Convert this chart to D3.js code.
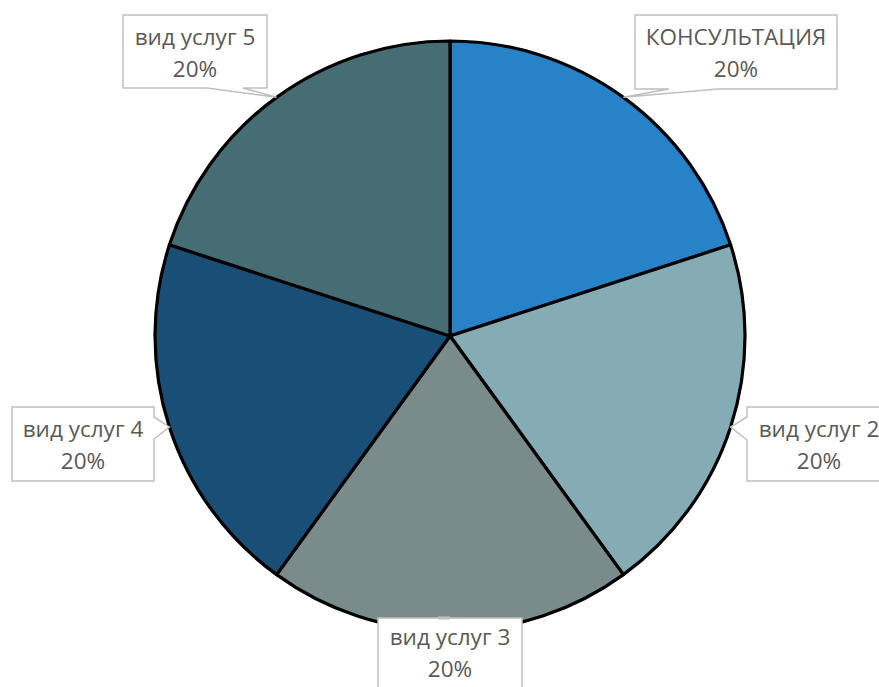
<!DOCTYPE html>
<html><head><meta charset="utf-8">
<script src="https://cdn.jsdelivr.net/npm/d3@7/dist/d3.min.js"></script>
<style>html,body{margin:0;padding:0;background:#fff;overflow:hidden}</style>
</head><body>
<svg id="c" width="879" height="687"></svg>
<script>
const categories = ["КОНСУЛЬТАЦИЯ", "вид услуг 2", "вид услуг 3", "вид услуг 4", "вид услуг 5"];
const values = [20, 20, 20, 20, 20];
const percentLabels = ["20%", "20%", "20%", "20%", "20%"];
const colors = ["#2782C7", "#85ABB5", "#7A8B8C", "#194E76", "#476D74"];

// label box layout (x, y, w, h) and side of pointer
const boxes = [
  {x:635, y:15, w:202, h:74, side:"bottom"},
  {x:747, y:407, w:144, h:74, side:"left"},
  {x:378, y:618, w:144, h:74, side:"top"},
  {x:12, y:407, w:142, h:74, side:"right"},
  {x:123, y:15, w:144, h:73, side:"bottom"}
];

const svg = d3.select("#c");
const cx = 450, cy = 336, R = 295;
const g = svg.append("g").attr("transform", `translate(${cx},${cy})`);
const pie = d3.pie().sort(null).value(d => d)(values);
const arc = d3.arc().innerRadius(0).outerRadius(R);
g.selectAll("path.s").data(pie).enter().append("path")
  .attr("d", arc).attr("fill", (d,i) => colors[i])
  .attr("stroke", "#000").attr("stroke-width", 3.2).attr("stroke-linejoin","round");

const lg = svg.append("g");
pie.forEach((d, i) => {
  const a = (d.startAngle + d.endAngle) / 2;
  const tx = cx + R * Math.sin(a), ty = cy - R * Math.cos(a);
  const b = boxes[i];
  let p;
  const x0 = b.x, x1 = b.x + b.w, y0 = b.y, y1 = b.y + b.h;
  if (b.side === "bottom") {
    let bx1, bx2;
    if (i === 4) { bx1 = 207; bx2 = 243; }
    else { bx1 = 669; bx2 = 718; }
    p = `M${x0},${y0}H${x1}V${y1}H${bx2}L${tx},${ty}L${bx1},${y1}H${x0}Z`;
  } else if (b.side === "left") {
    p = `M${x0},${y0}H${x1}V${y1}H${x0}V440L${tx},${ty}L${x0},417Z`;
  } else if (b.side === "right") {
    p = `M${x0},${y0}H${x1}V417L${tx},${ty}L${x1},439V${y1}H${x0}Z`;
  } else {
    p = `M${x0},${y0}H${x1}V${y1}H${x0}Z`;
  }
  lg.append("path").attr("d", p).attr("fill", "#fff")
    .attr("stroke", "#BFBFBF").attr("stroke-width", 1.5);
  if (b.side === "top") {
    lg.append("line").attr("x1", 438).attr("x2", 450).attr("y1", y0).attr("y2", y0)
      .attr("stroke", "#BFBFBF").attr("stroke-width", 3);
  }
  const t = lg.append("text").attr("text-anchor", "middle")
    .attr("font-family", "'Open Sans', sans-serif").attr("font-size", 22.5)
    .attr("fill", "#595959");
  const mx = (i === 1) ? x0 + 72 : (x0 + x1) / 2;
  const off = (b.side === "top") ? -3 : 0;
  t.append("tspan").attr("x", mx).attr("y", y0 + 30 + off).text(categories[i]);
  t.append("tspan").attr("x", mx).attr("y", y0 + 62 + off).text(percentLabels[i]);
});
</script>
</body></html>
